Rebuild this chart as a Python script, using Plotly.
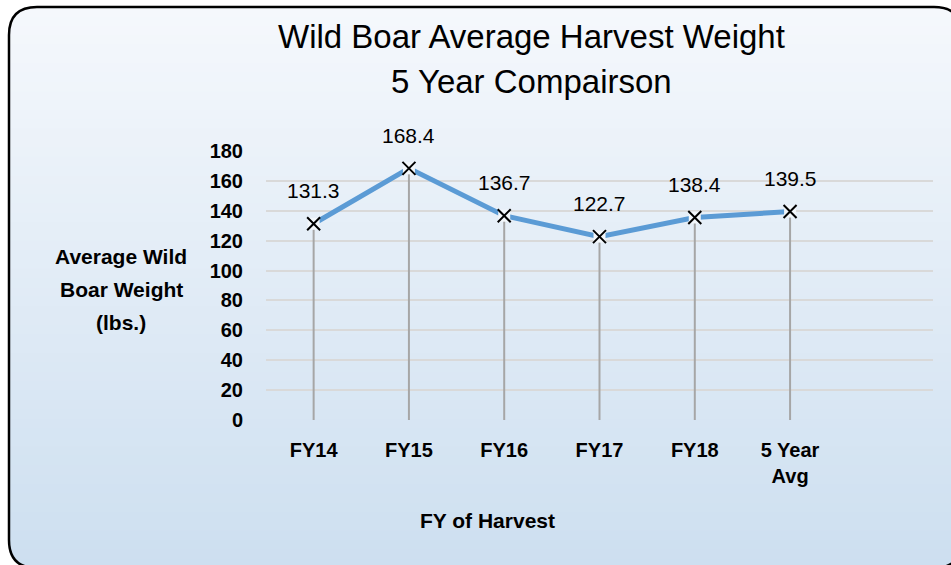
import plotly.graph_objects as go

# ---- data ----
categories = ["FY14", "FY15", "FY16", "FY17", "FY18", "5 Year Avg"]
tick_text = ["FY14", "FY15", "FY16", "FY17", "FY18", "5 Year<br>Avg"]
weights = [131.3, 168.4, 136.7, 122.7, 135.5, 139.5]
label_text = ["131.3", "168.4", "136.7", "122.7", "138.4", "139.5"]
y_ticks = [0, 20, 40, 60, 80, 100, 120, 140, 160, 180]

W, H = 951, 565
ML, MR, MT, MB = 266, 18, 151, 145
PW, PH = W - ML - MR, H - MT - MB

def px(x):
    return (x - ML) / PW

def py(y):
    return (H - MB - y) / PH

FONT = "Liberation Sans, Arial, sans-serif"

fig = go.Figure()

# drop lines
dx, dy = [], []
for c, v in zip(categories, weights):
    dx += [c, c, None]
    dy += [0, v, None]
fig.add_trace(go.Scatter(x=dx, y=dy, mode="lines",
                         line=dict(color="#a6a6a6", width=2),
                         hoverinfo="skip", showlegend=False))
# main line
fig.add_trace(go.Scatter(x=categories, y=weights, mode="lines",
                         line=dict(color="#5b9bd5", width=5),
                         showlegend=False))
# marker background boxes
fig.add_trace(go.Scatter(x=categories, y=weights, mode="markers",
                         marker=dict(symbol="square", size=12, color="#f3f7fb"),
                         hoverinfo="skip", showlegend=False))
# x markers
fig.add_trace(go.Scatter(x=categories, y=weights, mode="markers",
                         marker=dict(symbol="x-thin", size=13,
                                     line=dict(color="black", width=2)),
                         showlegend=False))

# data labels
for c, v, t in zip(categories, weights, label_text):
    fig.add_annotation(x=c, y=v, xref="x", yref="y", text=t, showarrow=False,
                       yshift=33, font=dict(family=FONT, size=21, color="black"))

# gradient background bands
shapes = []
top_col = (245, 248, 252)
bot_col = (205, 223, 240)
N = 60
y0p, y1p = 7, 568
for i in range(N):
    a = y0p + (y1p - y0p) * i / N
    b = y0p + (y1p - y0p) * (i + 1) / N + 0.8
    t = i / (N - 1)
    col = tuple(round(top_col[k] + (bot_col[k] - top_col[k]) * t) for k in range(3))
    shapes.append(dict(type="rect", xref="paper", yref="paper",
                       x0=px(9), x1=px(962), y0=py(a), y1=py(min(b, y1p)),
                       fillcolor="rgb(%d,%d,%d)" % col, line=dict(width=0),
                       layer="below"))

R = 28
L_, T_, R_, B_ = 9, 7, 962, 568

def P(x, y):
    return "%.5f,%.5f" % (px(x), py(y))

# white corners outside rounded border
corners = [
    (L_, T_, L_ + R, T_, L_, T_ + R),
    (R_, T_, R_ - R, T_, R_, T_ + R),
    (L_, B_, L_ + R, B_, L_, B_ - R),
    (R_, B_, R_ - R, B_, R_, B_ - R),
]
for cx, cy, ax, ay, bx, by in corners:
    path = "M %s L %s Q %s %s Z" % (P(cx, cy), P(ax, ay), P(cx, cy), P(bx, by))
    shapes.append(dict(type="path", xref="paper", yref="paper", path=path,
                       fillcolor="white", line=dict(width=0), layer="below"))

border = ("M %s L %s Q %s %s L %s Q %s %s L %s Q %s %s L %s Q %s %s Z" % (
    P(L_ + R, T_), P(R_ - R, T_), P(R_, T_), P(R_, T_ + R),
    P(R_, B_ - R), P(R_, B_), P(R_ - R, B_),
    P(L_ + R, B_), P(L_, B_), P(L_, B_ - R),
    P(L_, T_ + R), P(L_, T_), P(L_ + R, T_)))
shapes.append(dict(type="path", xref="paper", yref="paper", path=border,
                   line=dict(color="black", width=2.5), layer="above"))

# titles
fig.add_annotation(xref="paper", yref="paper", x=px(531), y=py(37),
                   text="Wild Boar Average Harvest Weight", showarrow=False,
                   xanchor="center", yanchor="middle",
                   font=dict(family=FONT, size=33, color="black"))
fig.add_annotation(xref="paper", yref="paper", x=px(531), y=py(82),
                   text="5 Year Compairson", showarrow=False,
                   xanchor="center", yanchor="middle",
                   font=dict(family=FONT, size=33, color="black"))
# y title lines
for txt, yy in [("Average Wild", 256), ("Boar Weight", 289), ("(lbs.)", 322)]:
    fig.add_annotation(xref="paper", yref="paper", x=px(121), y=py(yy),
                       text="<b>%s</b>" % txt, showarrow=False,
                       xanchor="center", yanchor="middle",
                       font=dict(family=FONT, size=21, color="black"))
# x title
fig.add_annotation(xref="paper", yref="paper", x=px(487), y=py(520),
                   text="<b>FY of Harvest</b>", showarrow=False,
                   xanchor="center", yanchor="middle",
                   font=dict(family=FONT, size=21, color="black"))

fig.update_layout(
    width=W, height=H,
    margin=dict(l=ML, r=MR, t=MT, b=MB, pad=0),
    paper_bgcolor="white",
    plot_bgcolor="rgba(0,0,0,0)",
    shapes=shapes,
    showlegend=False,
    xaxis=dict(type="category", categoryorder="array",
               categoryarray=categories + [" "],
               range=[-0.5, 6.5], tickvals=categories, ticktext=tick_text,
               showgrid=False, zeroline=False, showline=False, ticks="",
               ticklabelstandoff=16,
               tickfont=dict(family=FONT, size=20, color="black", weight="bold")),
    yaxis=dict(range=[0, 180], tickvals=y_ticks, showgrid=True,
               gridcolor="#d9d9d9", gridwidth=2, zeroline=False,
               showline=False, ticks="", ticklabelstandoff=22,
               tickfont=dict(family=FONT, size=20, color="black", weight="bold")),
)

fig.write_html("out.html",
               config={"displayModeBar": False},
               post_script="document.body.style.margin='0';document.body.style.overflow='hidden';")
